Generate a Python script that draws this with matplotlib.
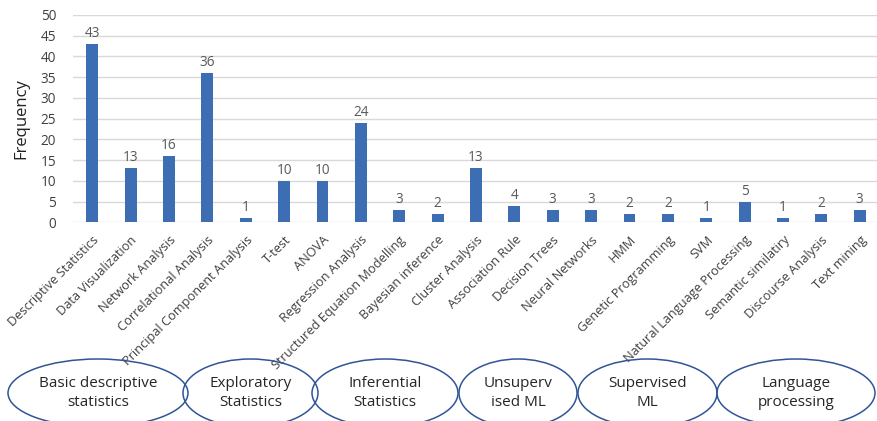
import matplotlib.pyplot as plt
from matplotlib.patches import Ellipse

plt.rcParams['font.family'] = ['Open Sans', 'DejaVu Sans']

methods = ['Descriptive Statistics', 'Data Visualization', 'Network Analysis',
           'Correlational Analysis', 'Principal Component Analysis', 'T-test',
           'ANOVA', 'Regression Analysis', 'Structured Equation Modelling',
           'Bayesian inference', 'Cluster Analysis', 'Association Rule',
           'Decision Trees', 'Neural Networks', 'HMM', 'Genetic Programming',
           'SVM', 'Natural Language Processing', 'Semantic similatiry',
           'Discourse Analysis', 'Text mining']
counts = [43, 13, 16, 36, 1, 10, 10, 24, 3, 2, 13, 4, 3, 3, 2, 2, 1, 5, 1, 2, 3]

groups = ['Basic descriptive\nstatistics', 'Exploratory\nStatistics',
          'Inferential\nStatistics', 'Unsuperv\nised ML', 'Supervised\nML',
          'Language\nprocessing']
# ellipse extents along the bottom strip, in pixels (left, right)
group_spans = [(8, 188), (183, 318), (312, 458), (459, 577), (578, 717), (717, 875)]

W, H = 877, 421
fig = plt.figure(figsize=(W / 100, H / 100), dpi=100)
ax = fig.add_axes([73 / W, 1 - 222.3 / H, 806 / W, (222.3 - 15) / H])

xs = list(range(len(methods)))
bars = ax.bar(xs, counts, width=0.31, color='#3d6eb4', zorder=3)
for x, c in zip(xs, counts):
    ax.text(x, c + 0.7, str(c), ha='center', va='bottom', fontsize=9.8, color='#595959')

ax.set_xlim(-0.5, len(methods) - 0.5)
ax.set_ylim(0, 50)
ax.set_yticks(range(0, 51, 5))
ax.yaxis.grid(True, color='#d9d9d9', linewidth=1, zorder=0)
for s in ax.spines.values():
    s.set_visible(False)
ax.tick_params(axis='x', length=0, labelsize=9.2, colors='#404040', pad=8)
ax.tick_params(axis='y', length=0, labelsize=9.8, colors='#404040', pad=12)
ax.set_xticks(xs)
ax.set_xticklabels(methods, rotation=45, ha='right', rotation_mode='anchor')
ax.set_ylabel('Frequency', fontsize=12, color='#222222', labelpad=8)

# overlay for the grouping ellipses
ov = fig.add_axes([0, 0, 1, 1])
ov.set_xlim(0, W)
ov.set_ylim(H, 0)
ov.axis('off')
for label, (x0, x1) in zip(groups, group_spans):
    cx = (x0 + x1) / 2
    ov.add_patch(Ellipse((cx, 393), x1 - x0, 68, fill=False,
                         edgecolor='#2f5597', linewidth=1.1))
    ov.text(cx, 393, label, ha='center', va='center', fontsize=11,
            color='#262626', linespacing=1.3)

fig.savefig('out.png', dpi=100)
